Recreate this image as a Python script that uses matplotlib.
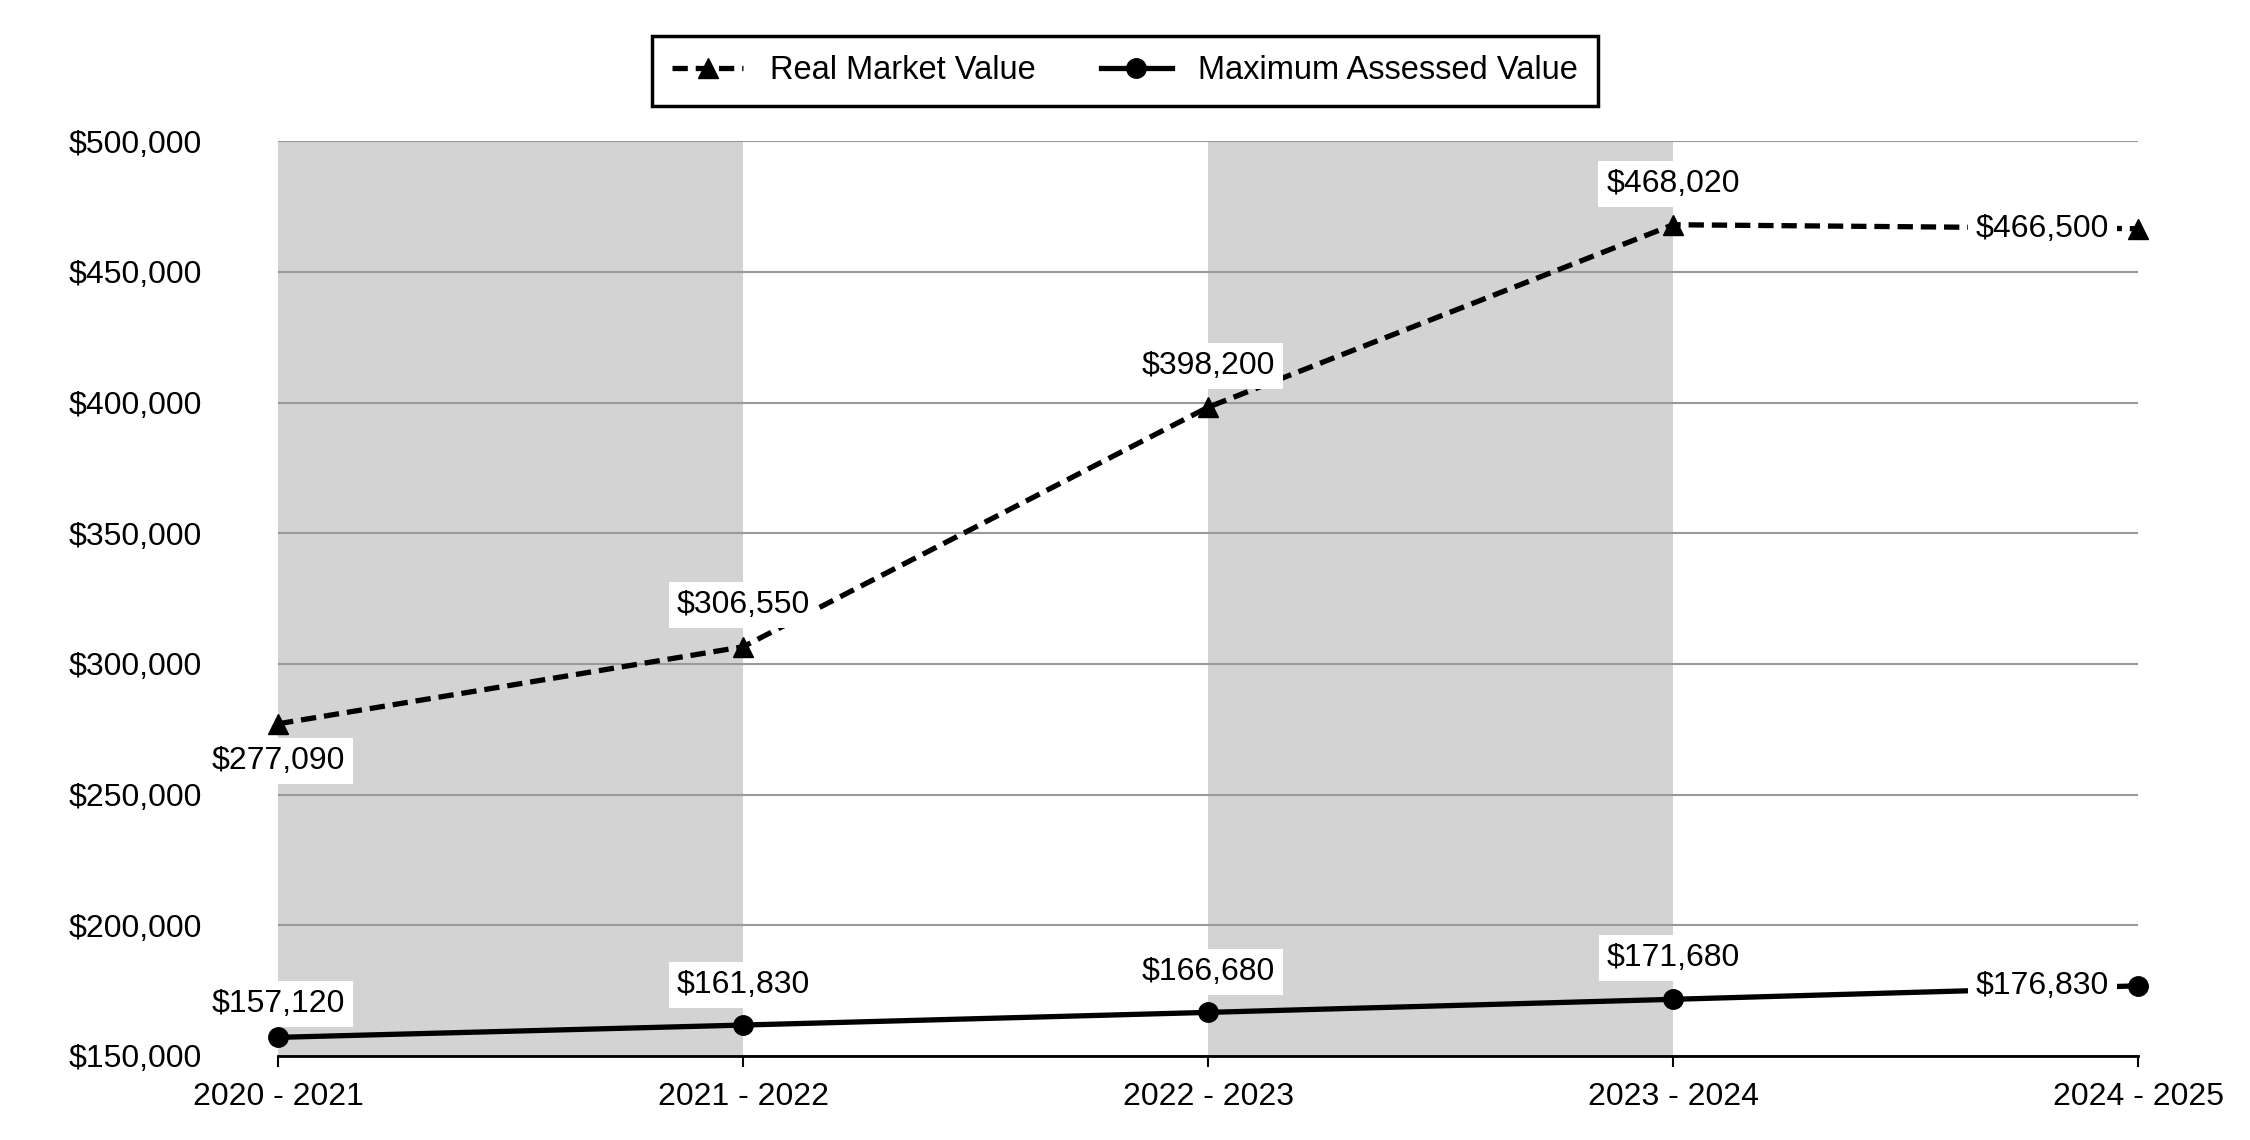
import matplotlib.pyplot as plt
from matplotlib.ticker import FuncFormatter

plt.rcParams['font.family'] = ['Liberation Sans', 'DejaVu Sans']

years = ['2020 - 2021', '2021 - 2022', '2022 - 2023', '2023 - 2024', '2024 - 2025']
real_market = [277090, 306550, 398200, 468020, 466500]
max_assessed = [157120, 161830, 166680, 171680, 176830]

# label offsets (points) for each data label
rmv_offsets = [(0, -27), (0, 30), (0, 30), (0, 29), (-21, 0)]
mav_offsets = [(0, 24), (0, 29), (0, 29), (0, 30), (-21, 0)]

fig = plt.figure(figsize=(22.5, 11.4), dpi=100)
ax = fig.add_axes([0.1236, 0.0737, 0.8267, 0.8025])

x = list(range(len(years)))
ax.axvspan(0, 1, color='#d3d3d3', zorder=0, lw=0)
ax.axvspan(2, 3, color='#d3d3d3', zorder=0, lw=0)

ax.plot(x, real_market, color='black', lw=3.8, ls=(0, (2.9, 1.5)),
        marker='^', ms=15, label='Real Market Value', zorder=3, clip_on=False)
ax.plot(x, max_assessed, color='black', lw=3.8, marker='o', ms=14,
        label='Maximum Assessed Value', zorder=3, clip_on=False)

box = dict(boxstyle='square,pad=0.25', fc='white', ec='none')
for xi, v, off in zip(x, real_market, rmv_offsets):
    ha = 'right' if off[0] < 0 else 'center'
    ax.annotate(f'${v:,}', (xi, v), xytext=off, textcoords='offset points',
                ha=ha, va='center', fontsize=23, bbox=box, zorder=4)
for xi, v, off in zip(x, max_assessed, mav_offsets):
    ha = 'right' if off[0] < 0 else 'center'
    ax.annotate(f'${v:,}', (xi, v), xytext=off, textcoords='offset points',
                ha=ha, va='center', fontsize=23, bbox=box, zorder=4)

ax.set_xlim(0, 4)
ax.set_ylim(150000, 500000)
ax.set_yticks(range(150000, 500001, 50000))
ax.yaxis.set_major_formatter(FuncFormatter(lambda v, p: f'${int(v):,}'))
ax.set_xticks(x)
ax.set_xticklabels(years)
ax.grid(axis='y', color='#999999', lw=1.5, zorder=1)
ax.set_axisbelow(True)
for s in ['left', 'right', 'top']:
    ax.spines[s].set_visible(False)
ax.spines['bottom'].set_linewidth(2)
ax.spines['bottom'].set_zorder(5)
ax.tick_params(axis='y', length=0, pad=55, labelsize=23)
ax.tick_params(axis='x', length=8, width=1.5, direction='out', pad=11, labelsize=23)

leg = fig.legend(loc='center', bbox_to_anchor=(0.5, 0.938), ncol=2, fontsize=23.5,
                 frameon=True, fancybox=False, edgecolor='black', framealpha=1,
                 handlelength=2.2, columnspacing=2.0, borderpad=0.6)
leg.get_frame().set_linewidth(2.5)

fig.savefig('out.png', dpi=100)
